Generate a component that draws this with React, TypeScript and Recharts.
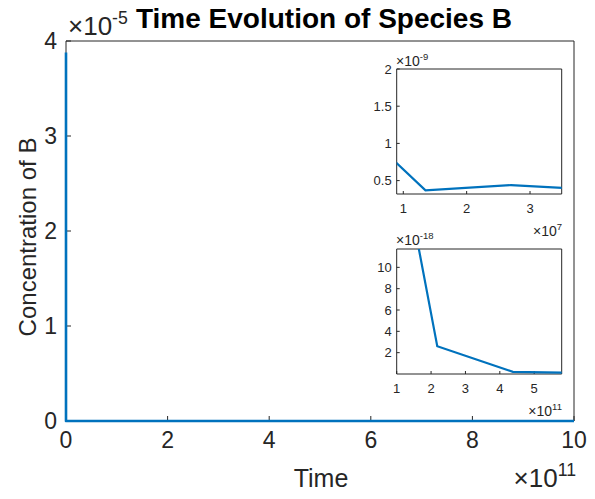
import React from 'react';
import { LineChart, Line, XAxis, YAxis } from 'recharts';

// Simulated concentration of species B over time
const times = [0, 0.85e7, 1.35e7, 2.7e7, 4.2e7, 1.1e11, 2.18e11, 4.38e11, 5.8e11, 1e12];
const concB = [3.88e-5, 0.77e-9, 0.37e-9, 0.44e-9, 0.37e-9, 21e-18, 2.6e-18, 0.2e-18, 0.12e-18, 0.1e-18];

const mainXTicks = [0, 2e11, 4e11, 6e11, 8e11, 1e12];
const mainYTicks = [0, 1e-5, 2e-5, 3e-5, 4e-5];
const earlyXTicks = [1e7, 2e7, 3e7];
const earlyYTicks = [0.5e-9, 1e-9, 1.5e-9, 2e-9];
const lateXTicks = [1e11, 2e11, 3e11, 4e11, 5e11];
const lateYTicks = [2e-18, 4e-18, 6e-18, 8e-18, 10e-18];

const data = times.map((t, i) => ({ t, c: concB[i] }));

const FONT = '"Liberation Sans", Arial, Helvetica, sans-serif';
const AXIS = '#262626';
const BLUE = '#0072BD';

const scaled = (p: number) => (v: number) => String(Number((v / Math.pow(10, p)).toPrecision(6)));

type BoxProps = {
  width: number;
  height: number;
  margin: { top: number; right: number; bottom: number; left: number };
  xDomain: [number, number];
  yDomain: [number, number];
  xTicks: number[];
  yTicks: number[];
  xExp: number;
  yExp: number;
  fontSize: number;
  tickLen: number;
  xMargin: number;
  yMargin: number;
  xHeight: number;
  yWidth: number;
  lineWidth: number;
  clip: boolean;
};

// A MATLAB-style boxed axes: inward ticks on all four sides
function BoxPlot(p: BoxProps) {
  const tickStyle = { fill: AXIS, fontSize: p.fontSize, fontFamily: FONT };
  const axisLine = { stroke: AXIS, strokeWidth: 1 };
  const tickLine = { stroke: AXIS, strokeWidth: 1 };
  return (
    <LineChart width={p.width} height={p.height} data={data} margin={p.margin}>
      <XAxis
        xAxisId="b"
        dataKey="t"
        type="number"
        domain={p.xDomain}
        ticks={p.xTicks}
        interval={0}
        allowDataOverflow={p.clip}
        tickFormatter={scaled(p.xExp)}
        tick={tickStyle}
        tickSize={-p.tickLen}
        tickMargin={p.xMargin}
        axisLine={axisLine}
        tickLine={tickLine}
        height={p.xHeight}
      />
      <XAxis
        xAxisId="t"
        orientation="top"
        dataKey="t"
        type="number"
        domain={p.xDomain}
        ticks={p.xTicks}
        interval={0}
        allowDataOverflow={p.clip}
        tick={false}
        tickSize={-p.tickLen}
        axisLine={axisLine}
        tickLine={tickLine}
        height={1}
      />
      <YAxis
        yAxisId="l"
        type="number"
        domain={p.yDomain}
        ticks={p.yTicks}
        interval={0}
        allowDataOverflow={p.clip}
        tickFormatter={scaled(p.yExp)}
        tick={tickStyle}
        tickSize={-p.tickLen}
        tickMargin={p.yMargin}
        axisLine={axisLine}
        tickLine={tickLine}
        width={p.yWidth}
      />
      <YAxis
        yAxisId="r"
        orientation="right"
        type="number"
        domain={p.yDomain}
        ticks={p.yTicks}
        interval={0}
        allowDataOverflow={p.clip}
        tick={false}
        tickSize={-p.tickLen}
        axisLine={axisLine}
        tickLine={tickLine}
        width={1}
      />
      <Line
        xAxisId="b"
        yAxisId="l"
        type="linear"
        dataKey="c"
        stroke={BLUE}
        strokeWidth={p.lineWidth}
        dot={false}
        activeDot={false}
        isAnimationActive={false}
        zIndex={2000}
      />
    </LineChart>
  );
}

function Exp({ x, y, exp, size, anchor = 'start' }: { x: number; y: number; exp: string; size: number; anchor?: string }) {
  return (
    <text x={x} y={y} fontSize={size} fontFamily={FONT} fill={AXIS} textAnchor={anchor as any}>
      ×10
      <tspan dy={-size * 0.42} fontSize={size * 0.68}>
        {exp}
      </tspan>
    </text>
  );
}

export default function App() {
  return (
    <div style={{ position: 'absolute', left: 0, top: 0, width: 595, height: 499, background: '#fff' }}>
      <div style={{ position: 'absolute', left: 0, top: 0 }}>
        <BoxPlot
          width={595}
          height={499}
          margin={{ top: 40, right: 20, bottom: 0, left: 0 }}
          xDomain={[0, 1e12]}
          yDomain={[0, 4e-5]}
          xTicks={mainXTicks}
          yTicks={mainYTicks}
          xExp={11}
          yExp={-5}
          fontSize={23}
          tickLen={5}
          xMargin={16}
          yMargin={14}
          xHeight={78}
          yWidth={66}
          lineWidth={2.6}
          clip={false}
        />
      </div>
      <div style={{ position: 'absolute', left: 356, top: 60 }}>
        <BoxPlot
          width={215}
          height={160}
          margin={{ top: 8, right: 8.3, bottom: 0, left: 0 }}
          xDomain={[0.896e7, 3.5e7]}
          yDomain={[0.32e-9, 2e-9]}
          xTicks={earlyXTicks}
          yTicks={earlyYTicks}
          xExp={7}
          yExp={-9}
          fontSize={13}
          tickLen={3}
          xMargin={13}
          yMargin={8}
          xHeight={26}
          yWidth={40.7}
          lineWidth={2.2}
          clip={true}
        />
      </div>
      <div style={{ position: 'absolute', left: 356, top: 240 }}>
        <BoxPlot
          width={215}
          height={160}
          margin={{ top: 8, right: 8.3, bottom: 0, left: 0 }}
          xDomain={[1e11, 5.8e11]}
          yDomain={[0, 11.72e-18]}
          xTicks={lateXTicks}
          yTicks={lateYTicks}
          xExp={11}
          yExp={-18}
          fontSize={13}
          tickLen={3}
          xMargin={13}
          yMargin={8}
          xHeight={26}
          yWidth={40.7}
          lineWidth={2.2}
          clip={true}
        />
      </div>
      <svg
        width={595}
        height={499}
        style={{ position: 'absolute', left: 0, top: 0, pointerEvents: 'none' }}
      >
        <text x={324} y={28} fontSize={28} fontWeight="bold" fontFamily={FONT} fill="#000" textAnchor="middle">
          Time Evolution of Species B
        </text>
        <Exp x={68} y={35} exp="-5" size={26} />
        <text
          x={36}
          y={237}
          transform="rotate(-90 36 237)"
          fontSize={24}
          fontFamily={FONT}
          fill={AXIS}
          textAnchor="middle"
        >
          Concentration of B
        </text>
        <text x={321} y={487} fontSize={25} fontFamily={FONT} fill={AXIS} textAnchor="middle">
          Time
        </text>
        <Exp x={576} y={487} exp="11" size={26} anchor="end" />
        <Exp x={396} y={66} exp="-9" size={14} />
        <Exp x={562} y={236} exp="7" size={14} anchor="end" />
        <Exp x={396} y={245} exp="-18" size={14} />
        <Exp x={562} y={416} exp="11" size={14} anchor="end" />
      </svg>
    </div>
  );
}
